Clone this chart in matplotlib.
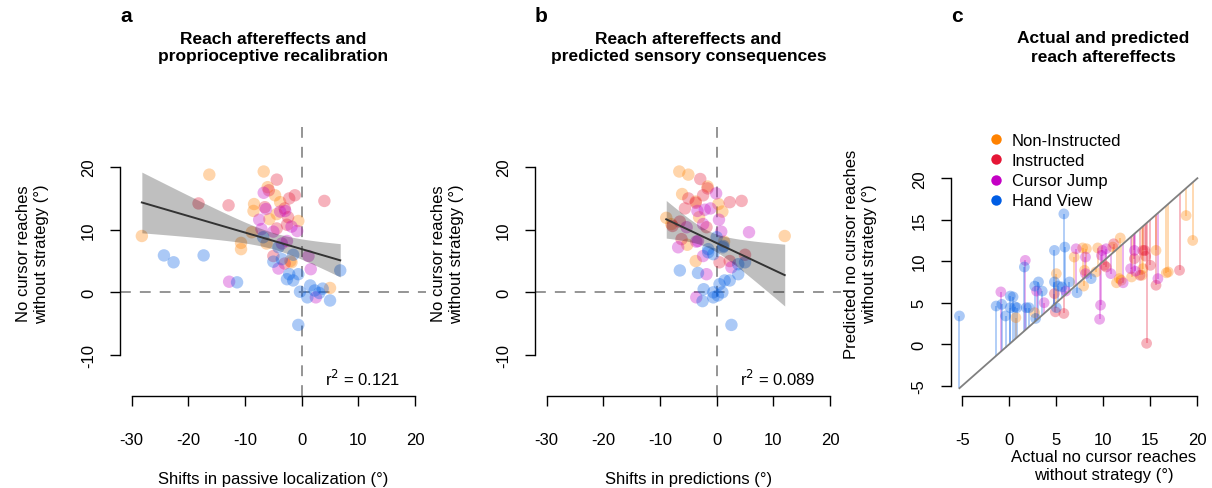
import numpy as np
import matplotlib
matplotlib.use('Agg')
import matplotlib.pyplot as plt
from matplotlib.lines import Line2D

plt.rcParams['font.family'] = ['Liberation Sans', 'DejaVu Sans']
plt.rcParams['axes.unicode_minus'] = False

# ---------------- data ----------------
groups = ['Non-Instructed', 'Instructed', 'Cursor Jump', 'Hand View']
colors = ['#ff8200', '#e51636', '#c400c4', '#005de4']

# panel a: shifts in passive localization (x) vs no-cursor reaches without strategy (y)
loc_noninst = [-28.2, -16.3, -10.7, -10.7, -6.7, -6.0, -4.7, -8.4, -8.5, -3.8, -0.6, -5.7, -8.8, -6.2, -1.8, 5.0, -4.4, -2.0]
ncr_a_noninst = [9.0, 18.8, 7.9, 6.9, 19.3, 16.8, 15.5, 14.1, 13.0, 14.4, 11.4, 11.7, 9.6, 7.8, 4.8, 0.7, 12.5, 5.0]
loc_inst = [-18.2, -12.9, -4.4, -1.2, -2.2, 4.0, -6.5, -2.4, -4.4, -2.6, -5.0, -5.8, -3.0, -3.0]
ncr_a_inst = [14.2, 13.9, 18.0, 15.5, 15.0, 14.6, 13.6, 12.0, 10.2, 10.8, 5.8, 16.3, 13.4, 4.6]
loc_jump = [-12.8, -6.7, -3.8, -2.9, -7.5, -7.1, -5.0, -0.8, -1.8, -2.6, 1.2, -4.1, 1.6, 2.5, -6.3, -3.5]
ncr_a_jump = [1.7, 15.9, 12.9, 13.0, 11.6, 10.1, 9.7, 9.8, 10.5, 8.2, 5.8, 3.8, 3.7, -0.8, 13.3, 7.8]
loc_hand = [-24.3, -22.6, -17.3, -11.4, -6.8, -4.1, -1.5, -5.0, -3.5, 6.8, -2.6, -1.5, -0.6, -0.3, 1.5, 2.3, 3.1, 1.0, 3.7, 5.0, -0.6, -2.2]
ncr_a_hand = [5.9, 4.8, 5.9, 1.6, 8.8, 7.2, 6.0, 4.9, 5.3, 3.5, 2.1, 1.9, 2.9, 0.1, 1.1, 0.3, -0.1, -0.8, 0.6, -1.3, -5.2, 2.9]

# panel b: shifts in predictions (x) vs no-cursor reaches without strategy (y)
pred_noninst = [-6.6, -5.0, -1.6, -6.1, -3.7, 0.3, 1.0, -8.9, -8.0, -3.1, 12.0, -5.2, 1.3, -3.7]
ncr_b_noninst = [19.3, 18.8, 16.9, 15.7, 14.5, 14.1, 12.9, 11.9, 10.9, 12.0, 9.0, 7.6, 8.1, 5.0]
pred_inst = [-2.9, -5.0, -2.4, 2.3, 4.4, -5.6, -6.5, -1.8, -6.2, 0.5, 2.3, 5.0, -1.6, -3.7, -7.8]
ncr_b_inst = [18.1, 15.0, 15.5, 14.4, 14.6, 13.4, 11.3, 10.4, 8.5, 4.8, 5.0, 6.0, 16.6, 14.3, 10.6]
pred_jump = [-0.1, -3.4, -2.1, -1.1, -5.3, 0.4, -2.4, 0.8, 5.7, -6.8, -3.6, -2.4, 2.6, -1.8, -3.6, -3.3]
ncr_b_jump = [15.8, 13.0, 13.2, 13.4, 10.4, 11.6, 10.9, 9.7, 9.6, 7.2, 8.1, 5.8, 4.0, 2.9, -0.8, 8.2]
pred_hand = [0.0, -1.5, -0.6, 1.1, 3.8, 5.0, -6.5, -3.3, 3.8, 1.4, 0.5, -2.3, -0.6, 1.0, 0.2, -2.5, -0.6, 2.6, -1.5, 2.3, 1.2]
ncr_b_hand = [8.8, 6.9, 6.1, 7.2, 4.5, 4.8, 3.5, 3.1, 2.9, 1.9, 1.3, 0.5, 0.0, 0.0, -0.5, -1.4, -0.8, -5.2, 6.4, 1.9, 7.4]

# panel c: actual (x) vs predicted (y) no-cursor reaches without strategy
actual_noninst = [0.7, 2.7, 5.0, 6.9, 7.8, 8.2, 8.0, 7.9, 9.2, 9.4, 11.0, 11.8, 11.4, 11.7, 11.9, 13.0, 14.1, 14.2, 15.6, 16.7, 16.9, 18.8, 19.5]
predic_noninst = [3.2, 3.8, 8.5, 10.5, 11.6, 11.5, 8.9, 7.0, 8.7, 11.6, 11.7, 12.8, 7.4, 7.9, 7.7, 8.1, 8.3, 9.1, 11.3, 8.6, 8.7, 15.5, 12.5]
actual_inst = [4.8, 4.9, 5.8, 10.1, 10.3, 11.1, 13.3, 13.9, 14.2, 14.4, 14.5, 14.6, 15.0, 15.6, 18.1]
predic_inst = [6.1, 3.9, 3.7, 9.5, 9.3, 12.1, 10.3, 8.3, 11.3, 11.3, 10.6, 0.1, 9.5, 7.1, 8.9]
actual_jump = [-0.9, 1.7, 2.9, 3.7, 6.0, 7.1, 8.1, 8.1, 9.8, 9.9, 10.3, 10.8, 9.7, 9.6, 12.1, 12.9, 13.3, 13.4, 15.8]
predic_jump = [6.3, 10.1, 6.4, 5.0, 6.4, 11.5, 10.5, 8.5, 10.7, 11.3, 11.5, 8.5, 4.7, 3.0, 7.4, 9.1, 11.3, 8.8, 7.9]
actual_hand = [-5.3, -1.4, -0.8, -0.4, 0.1, 0.4, 0.1, 0.6, 0.8, 1.6, 1.8, 2.1, 2.7, 3.1, 3.5, 2.8, 4.8, 5.8, 5.9, 4.8, 5.2, 5.6, 5.0, 6.4, 7.2, 8.7]
predic_hand = [3.4, 4.6, 4.8, 3.4, 5.8, 5.7, 4.4, 4.5, 4.4, 9.3, 4.4, 4.4, 7.0, 7.5, 6.4, 3.1, 11.3, 15.7, 11.7, 7.5, 7.0, 6.9, 4.4, 7.5, 6.2, 7.9]
identity_ends = [-5.3, 20.0]

r2_texts = ['0.121', '0.089']
titles = ['Reach aftereffects and\nproprioceptive recalibration',
          'Reach aftereffects and\npredicted sensory consequences',
          'Actual and predicted\nreach aftereffects']
panel_letters = ['a', 'b', 'c']

# ---------------- figure ----------------
W, H = 1212, 489
fig = plt.figure(figsize=(W / 100, H / 100), dpi=100)


def fx(px):
    return px / W


def fy(py):
    return 1 - py / H


def add_ax(l, t, r, b):
    return fig.add_axes([fx(l), fy(b), (r - l) / W, (b - t) / H])


FS = 12


def style(ax, xb, yb, xt, yt):
    for s in ['top', 'right']:
        ax.spines[s].set_visible(False)
    ax.spines['left'].set_bounds(*yb)
    ax.spines['bottom'].set_bounds(*xb)
    for s in ['left', 'bottom']:
        ax.spines[s].set_linewidth(1.0)
    ax.set_xticks(xt)
    ax.set_yticks(yt)
    ax.tick_params(axis='both', direction='out', length=7.5, width=1.0, labelsize=FS, colors='black')
    ax.tick_params(axis='x', pad=18)
    ax.tick_params(axis='y', pad=10, labelrotation=90)
    for lb in ax.get_yticklabels():
        lb.set_va('center')
    ax.patch.set_visible(False)


def scatter_fit(ax, xs_list, ys_list):
    for xs, ys, c in zip(xs_list, ys_list, colors):
        ax.scatter(xs, ys, s=80, color=c, alpha=0.33, edgecolors='none', zorder=2)
    x = np.concatenate([np.asarray(v, float) for v in xs_list])
    y = np.concatenate([np.asarray(v, float) for v in ys_list])
    n = len(x)
    slope, icpt = np.polyfit(x, y, 1)
    resid = y - (icpt + slope * x)
    s = np.sqrt(np.sum(resid ** 2) / (n - 2))
    xm = x.mean()
    sxx = np.sum((x - xm) ** 2)
    xg = np.linspace(x.min(), x.max(), 200)
    yg = icpt + slope * xg
    se = s * np.sqrt(1 / n + (xg - xm) ** 2 / sxx)
    tcrit = 1.99
    ax.fill_between(xg, yg - tcrit * se, yg + tcrit * se, color='black', alpha=0.25, linewidth=0, zorder=3)
    ax.plot(xg, yg, color='#333333', lw=1.4, zorder=4)


def dashed_axes(ax, top_px, ax_top_px, ax_bot_px):
    ymax = (ax_bot_px - top_px) / (ax_bot_px - ax_top_px)
    ax.axhline(0, color='#8c8c8c', lw=1.3, dashes=(6, 5), zorder=1)
    ax.axvline(0, ymin=0, ymax=ymax, color='#8c8c8c', lw=1.3, dashes=(6, 5), zorder=1)


AX_TOP, AX_BOT = 110.5, 397.3

# panel a
ax_a = add_ax(120.3, AX_TOP, 426.4, AX_BOT)
ax_a.set_xlim(-32, 22)
ax_a.set_ylim(-16.6, 29.2)
dashed_axes(ax_a, 128, AX_TOP, AX_BOT)
scatter_fit(ax_a, [loc_noninst, loc_inst, loc_jump, loc_hand],
            [ncr_a_noninst, ncr_a_inst, ncr_a_jump, ncr_a_hand])
style(ax_a, (-30, 20), (-10, 20), [-30, -20, -10, 0, 10, 20], [-10, 0, 10, 20])
ax_a.text(4.1, -13.7, r'r$^2$ = ' + r2_texts[0], fontsize=FS, va='center', ha='left')

# panel b
ax_b = add_ax(535.3, AX_TOP, 841.4, AX_BOT)
ax_b.set_xlim(-32, 22)
ax_b.set_ylim(-16.6, 29.2)
dashed_axes(ax_b, 128, AX_TOP, AX_BOT)
scatter_fit(ax_b, [pred_noninst, pred_inst, pred_jump, pred_hand],
            [ncr_b_noninst, ncr_b_inst, ncr_b_jump, ncr_b_hand])
style(ax_b, (-30, 20), (-10, 20), [-30, -20, -10, 0, 10, 20], [-10, 0, 10, 20])
ax_b.text(4.1, -13.7, r'r$^2$ = ' + r2_texts[1], fontsize=FS, va='center', ha='left')

# panel c
ax_c = add_ax(951.0, AX_TOP, 1255.7, AX_BOT)
ax_c.set_xlim(-6.2, 26.2)
ax_c.set_ylim(-6.28, 28.28)
for xs, ys, c in zip([actual_noninst, actual_inst, actual_jump, actual_hand],
                     [predic_noninst, predic_inst, predic_jump, predic_hand], colors):
    xs = np.asarray(xs, float)
    ys = np.asarray(ys, float)
    ax_c.vlines(xs, xs, ys, color=c, alpha=0.3, lw=1.4, zorder=2)
    ax_c.scatter(xs, ys, s=60, color=c, alpha=0.33, edgecolors='none', zorder=3)
ax_c.plot(identity_ends, identity_ends, color='#808080', lw=1.3, zorder=4)
style(ax_c, (-5, 20), (-5, 20), [-5, 0, 5, 10, 15, 20], [-5, 0, 5, 10, 15, 20])

handles = [Line2D([], [], ls='none', marker='o', markersize=7.5, color=c, markeredgewidth=0) for c in colors]
ax_c.legend(handles, groups, loc='upper left', bbox_to_anchor=(fx(989), fy(134)),
            bbox_transform=fig.transFigure, frameon=False, fontsize=FS,
            handlelength=0.8, handletextpad=0.55, labelspacing=0.31, borderpad=0, borderaxespad=0)

# titles, letters, axis labels (placed in figure pixel coordinates)
for ax, ttl, let, lx in zip([ax_a, ax_b, ax_c], titles, panel_letters, [126, 541, 957]):
    bb = ax.get_position()
    fig.text((bb.x0 + bb.x1) / 2, fy(48), ttl, ha='center', va='center',
             fontsize=12.5, fontweight='bold', linespacing=1.25)
    fig.text(fx(lx), fy(17), let, ha='center', va='center', fontsize=15, fontweight='bold')

ycen = 253.9
fig.text(fx(32.5), fy(ycen), 'No cursor reaches\nwithout strategy (°)', rotation=90,
         ha='center', va='center', fontsize=FS, linespacing=1.2)
fig.text(fx(447.5), fy(ycen), 'No cursor reaches\nwithout strategy (°)', rotation=90,
         ha='center', va='center', fontsize=FS, linespacing=1.2)
fig.text(fx(860.5), fy(ycen), 'Predicted no cursor reaches\nwithout strategy (°)', rotation=90,
         ha='center', va='center', fontsize=FS, linespacing=1.2)

fig.text(fx(273.4), fy(480), 'Shifts in passive localization (°)', ha='center', va='center', fontsize=FS)
fig.text(fx(688.4), fy(480), 'Shifts in predictions (°)', ha='center', va='center', fontsize=FS)
fig.text(fx(1103.4), fy(466.5), 'Actual no cursor reaches\nwithout strategy (°)', ha='center', va='center',
         fontsize=FS, linespacing=1.25)

fig.savefig('out.png', dpi=100)
